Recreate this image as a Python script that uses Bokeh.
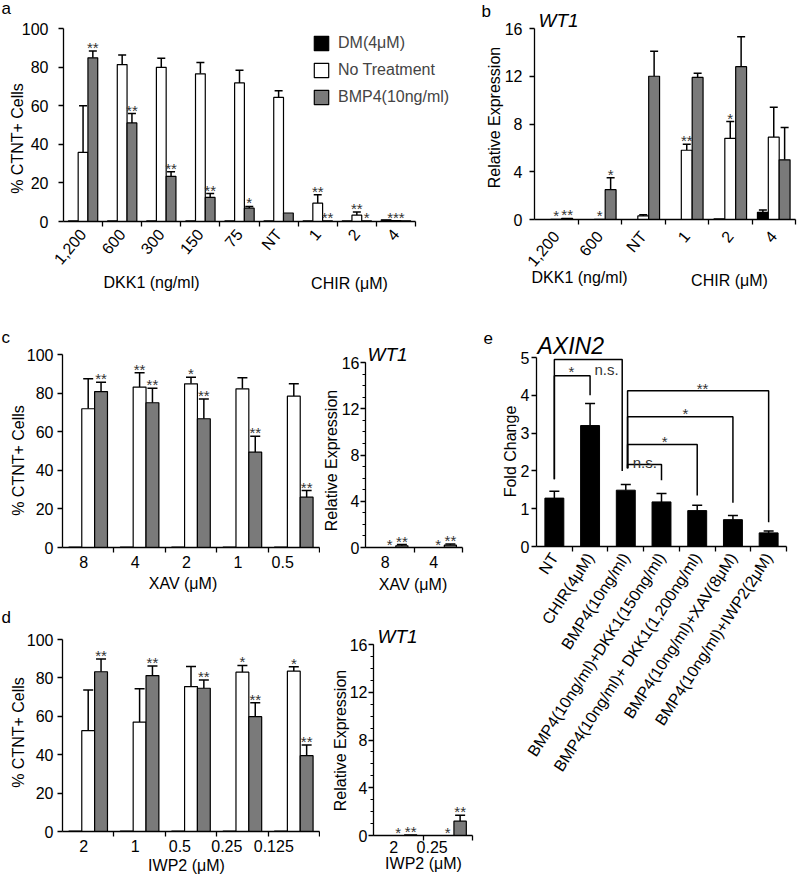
import math
from bokeh.plotting import figure
from bokeh.models import (Range1d, FixedTicker, Label, Legend, LegendItem,
                          ColumnDataSource, Whisker, TeeHead)
from bokeh.layouts import row, column
from bokeh.embed import file_html
from bokeh.resources import INLINE
from bokeh.core.properties import value

FONT = "Liberation Sans"
GRAY = "#7a7a7a"

# ---------------- data: panel a (% CTNT+ cells) ----------------
a_labels = ["1,200", "600", "300", "150", "75", "NT", "1", "2", "4"]
a_dm = [0.3, 0.3, 0.3, 0.3, 0.3, 0.3, 0.3, 0.3, 0.9]
a_dm_err = [0, 0, 0, 0, 0, 0, 0, 0, 0]
a_nt = [35.8, 81.3, 79.9, 76.5, 71.8, 64.3, 9.5, 3.3, 0.5]
a_nt_err = [24.2, 5.0, 4.7, 5.9, 6.6, 3.5, 4.4, 1.6, 0]
a_bmp = [84.8, 51.1, 23.4, 12.5, 6.9, 4.4, 0.4, 0.3, 0.4]
a_bmp_err = [3.5, 4.8, 2.4, 2.0, 0.9, 0, 0, 0, 0]
a_stars = [(0, "bmp", "**"), (1, "bmp", "**"), (2, "bmp", "**"), (3, "bmp", "**"),
           (4, "bmp", "*"), (6, "nt", "**"), (6, "bmp", "**"), (7, "nt", "**"),
           (7, "bmp", "*"), (8, "nt", "***")]

# ---------------- panel b (WT1) ----------------
b_labels = ["1,200", "600", "NT", "1", "2", "4"]
b_dm = [0.0, 0.0, 0.0, 0.0, 0.05, 0.6]
b_dm_err = [0, 0, 0, 0, 0, 0.2]
b_nt = [0.02, 0.02, 0.3, 5.8, 6.8, 6.9]
b_nt_err = [0, 0, 0.1, 0.5, 1.4, 2.5]
b_bmp = [0.1, 2.5, 12.0, 11.9, 12.8, 5.0]
b_bmp_err = [0, 1.0, 2.1, 0.35, 2.5, 2.7]
b_stars = [(0, "nt", "*"), (0, "bmp", "**"), (1, "nt", "*"), (1, "bmp", "*"),
           (3, "nt", "**"), (4, "nt", "*")]

# ---------------- panel c (XAV) ----------------
c_labels = ["8", "4", "2", "1", "0.5"]
c_dm = [0.2, 0.2, 0.2, 0.2, 0.2]
c_dm_err = [0, 0, 0, 0, 0]
c_nt = [71.9, 83.1, 84.8, 82.2, 78.4]
c_nt_err = [15.5, 7.4, 3.4, 5.7, 6.4]
c_bmp = [80.8, 75.0, 66.7, 49.4, 26.1]
c_bmp_err = [4.8, 7.5, 10.3, 8.3, 3.4]
c_stars = [(0, "bmp", "**"), (1, "nt", "**"), (1, "bmp", "**"), (2, "nt", "*"),
           (2, "bmp", "**"), (3, "bmp", "**"), (4, "bmp", "**")]

cr_labels = ["8", "4"]
cr_nt = [0.0, 0.0]
cr_nt_err = [0, 0]
cr_bmp = [0.15, 0.2]
cr_bmp_err = [0.1, 0.1]
cr_stars = [(0, "nt", "*"), (0, "bmp", "**"), (1, "nt", "*"), (1, "bmp", "**")]

# ---------------- panel d (IWP2) ----------------
d_labels = ["2", "1", "0.5", "0.25", "0.125"]
d_dm = [0.2, 0.2, 0.2, 0.2, 0.2]
d_dm_err = [0, 0, 0, 0, 0]
d_nt = [52.5, 57.0, 75.5, 83.0, 83.5]
d_nt_err = [21.2, 17.4, 10.5, 3.5, 2.3]
d_bmp = [83.2, 81.2, 74.6, 59.8, 39.5]
d_bmp_err = [6.7, 5.0, 4.3, 7.2, 5.6]
d_stars = [(0, "bmp", "**"), (1, "bmp", "**"), (2, "bmp", "**"), (3, "nt", "*"),
           (3, "bmp", "**"), (4, "nt", "*"), (4, "bmp", "**")]

dr_labels = ["2", "0.25"]
dr_nt = [0.0, 0.0]
dr_nt_err = [0, 0]
dr_bmp = [0.05, 1.2]
dr_bmp_err = [0, 0.5]
dr_stars = [(0, "nt", "*"), (0, "bmp", "**"), (1, "nt", "*"), (1, "bmp", "**")]

# ---------------- panel e (AXIN2) ----------------
e_labels = ["NT", "CHIR(4\u03bcM)", "BMP4(10ng/ml)", "BMP4(10ng/ml)+DKK1(150ng/ml)",
            "BMP4(10ng/ml)+ DKK1(1,200ng/ml)", "BMP4(10ng/ml)+XAV(8\u03bcM)",
            "BMP4(10ng/ml)+IWP2(2\u03bcM)"]
e_vals = [1.28, 3.2, 1.49, 1.18, 0.95, 0.71, 0.36]
e_err = [0.18, 0.58, 0.15, 0.22, 0.14, 0.11, 0.05]
e_br_x1 = [0, 0, 2.05, 2.05, 2.05, 2.05]
e_br_x2 = [1, 1.9, 3, 4, 5, 6]
e_br_top = [4.52, 4.95, 2.17, 2.70, 3.43, 4.12]
e_br_lo1 = [1.78, 1.78, 2.07, 2.07, 2.07, 2.07]
e_br_lo2 = [4.0, 2.0, 1.75, 1.35, 1.16, 0.64]
e_br_text = ["*", "n.s.", "n.s.", "*", "*", "**"]
e_br_text_x = [0.48, 1.46, 2.53, 3.09, 3.67, 4.15]
e_br_text_y = [4.7, 4.75, 2.3, 2.87, 3.6, 4.27]

OFFS = {"dm": -0.25, "nt": 0.0, "bmp": 0.25}
COLS = {"dm": "black", "nt": "white", "bmp": GRAY}


def make_fig(ox, oy, w, h, fl, fr, ft, fb, n, ymax):
    """Canvas w x h placed at page (ox, oy); the data box maps to page fl..fr, ft..fb."""
    x0, x1 = -0.5, n - 0.5
    y0, y1 = 0.0, float(ymax)
    ux = (x1 - x0) / (fr - fl)
    uy = (y1 - y0) / (fb - ft)
    xr = Range1d(x0 - (fl - ox) * ux, x1 + (ox + w - fr) * ux)
    yr = Range1d(y0 - (oy + h - fb) * uy, y1 + (ft - oy) * uy)
    p = figure(width=w, height=h, x_range=xr, y_range=yr,
               output_backend="svg", toolbar_location=None,
               min_border_left=0, min_border_right=0, min_border_top=0, min_border_bottom=0)
    p.grid.visible = False
    p.outline_line_color = None
    p.background_fill_color = "white"
    p.border_fill_color = "white"
    p.xaxis.fixed_location = y0
    p.xaxis.bounds = (x0, x1)
    p.yaxis.fixed_location = x0
    p.yaxis.bounds = (y0, y1)
    p.tags = [ox, oy, h]
    return p


def style_axes(p, labels, yticks, ystandoff, xangle=0.0, xstandoff=6, yminor=None,
               xfont="16px", yfont="16px"):
    n = len(labels)
    xa = p.xaxis[0]
    xa.ticker = FixedTicker(ticks=list(range(n)), minor_ticks=[i + 0.5 for i in range(n)])
    xa.major_label_overrides = {i: t for i, t in enumerate(labels)}
    xa.major_tick_line_color = None
    xa.major_tick_in = 0
    xa.major_tick_out = 0
    xa.minor_tick_line_color = "black"
    xa.minor_tick_in = 0
    xa.minor_tick_out = 5
    xa.minor_tick_line_width = 1.3
    xa.axis_line_width = 1.3
    xa.major_label_text_font = FONT
    xa.major_label_text_font_size = xfont
    xa.major_label_text_color = "black"
    xa.major_label_orientation = xangle
    xa.major_label_standoff = xstandoff
    ya = p.yaxis[0]
    ya.ticker = FixedTicker(ticks=yticks, minor_ticks=yminor or [])
    ya.major_tick_in = 0
    ya.major_tick_out = 5
    ya.major_tick_line_width = 1.3
    ya.minor_tick_in = 0
    ya.minor_tick_out = 3
    if not yminor:
        ya.minor_tick_line_color = None
    ya.axis_line_width = 1.3
    ya.major_label_text_font = FONT
    ya.major_label_text_font_size = yfont
    ya.major_label_text_color = "black"
    ya.major_label_standoff = ystandoff


def add_bars(p, series, stars, width=0.25, cap=8):
    rs = {}
    for key, (vals, errs) in series.items():
        xs = [i + OFFS[key] for i in range(len(vals))]
        rs[key] = p.vbar(x=xs, top=vals, bottom=0, width=width, fill_color=COLS[key],
                         line_color="black", line_width=1.2)
        ex = [x for x, e in zip(xs, errs) if e > 0]
        lo = [v for v, e in zip(vals, errs) if e > 0]
        hi = [v + e for v, e in zip(vals, errs) if e > 0]
        if ex:
            src = ColumnDataSource(dict(x=ex, lo=lo, hi=hi))
            p.add_layout(Whisker(base="x", lower="lo", upper="hi", source=src,
                                 dimension="height", line_color="black", line_width=1.5,
                                 upper_head=TeeHead(size=cap, line_color="black", line_width=1.5),
                                 lower_head=None))
    sx, sy, st = [], [], []
    for i, key, txt in stars:
        vals, errs = series[key]
        sx.append(i + OFFS[key])
        sy.append(vals[i] + errs[i])
        st.append(txt)
    p.text(x=sx, y=sy, text=st, text_font=value(FONT), text_font_size="15px",
           text_color="#333333", text_align="center", text_baseline="bottom", y_offset=5)
    return rs


def add_text(p, X, Y, text, size=16, angle=0.0, align="center", style="normal"):
    """(X, Y) is the page position of the text's centre line."""
    ox, oy, h = p.tags
    p.add_layout(Label(x=X - ox, y=oy + h - Y, x_units="screen", y_units="screen", text=text,
                       text_font=FONT, text_font_size=f"{size}px", angle=angle,
                       text_align=align, text_baseline="middle",
                       text_font_style=style, text_color="black"))


ROT = math.pi / 2

# ---------- panel a ----------
pa = make_fig(0, 0, 480, 300, 63, 415, 28, 221, len(a_labels), 100)
style_axes(pa, a_labels, [0, 20, 40, 60, 80, 100], 10, xangle=0.873, xstandoff=5)
ra = add_bars(pa, {"dm": (a_dm, a_dm_err), "nt": (a_nt, a_nt_err), "bmp": (a_bmp, a_bmp_err)},
              a_stars, cap=8)
leg = Legend(items=[LegendItem(label="DM(4\u03bcM)", renderers=[ra["dm"]]),
                    LegendItem(label="No Treatment", renderers=[ra["nt"]]),
                    LegendItem(label="BMP4(10ng/ml)", renderers=[ra["bmp"]])],
             location=(312, 300 - 106), glyph_width=18, glyph_height=18,
             label_height=18, spacing=9, padding=0, margin=0, label_standoff=8,
             border_line_color=None, background_fill_alpha=0,
             label_text_font=FONT, label_text_font_size="16px")
pa.add_layout(leg)
add_text(pa, 1, 8, "a", size=17, align="left")
add_text(pa, 16.5, 138, "% CTNT+ Cells", angle=ROT)
add_text(pa, 151, 282, "DKK1 (ng/ml)")
add_text(pa, 349, 283, "CHIR (\u03bcM)")

# ---------- panel b ----------
pb = make_fig(480, 0, 320, 300, 534, 795, 28, 219, len(b_labels), 16)
style_axes(pb, b_labels, [0, 4, 8, 12, 16], 7, xangle=0.873, xstandoff=9)
add_bars(pb, {"dm": (b_dm, b_dm_err), "nt": (b_nt, b_nt_err), "bmp": (b_bmp, b_bmp_err)},
         b_stars, cap=8)
add_text(pb, 481, 11, "b", size=17, align="left")
add_text(pb, 538, 20, "WT1", size=19, align="left", style="italic")
add_text(pb, 493.5, 117, "Relative Expression", angle=ROT)
add_text(pb, 579, 277, "DKK1 (ng/ml)")
add_text(pb, 729, 280, "CHIR (\u03bcM)")

# ---------- panel c ----------
pc = make_fig(0, 300, 320, 294, 62, 319, 354, 547, len(c_labels), 100)
style_axes(pc, c_labels, [0, 20, 40, 60, 80, 100], 4, xstandoff=9)
add_bars(pc, {"dm": (c_dm, c_dm_err), "nt": (c_nt, c_nt_err), "bmp": (c_bmp, c_bmp_err)},
         c_stars, cap=10)
add_text(pc, 1, 337, "c", size=17, align="left")
add_text(pc, 17.5, 460, "% CTNT+ Cells", angle=ROT)
add_text(pc, 182.5, 583, "XAV (\u03bcM)")

pcr = make_fig(320, 300, 160, 294, 365, 462, 362, 547, len(cr_labels), 16)
style_axes(pcr, cr_labels, [0, 4, 8, 12, 16], 1, xstandoff=9, yminor=list(range(17)))
add_bars(pcr, {"nt": (cr_nt, cr_nt_err), "bmp": (cr_bmp, cr_bmp_err)}, cr_stars, cap=10)
add_text(pcr, 367, 354, "WT1", size=19, align="left", style="italic")
add_text(pcr, 331, 460, "Relative Expression", angle=ROT)
add_text(pcr, 412.5, 584, "XAV (\u03bcM)")

# ---------- panel d ----------
pd_ = make_fig(0, 594, 320, 282, 62, 319, 639, 831, len(d_labels), 100)
style_axes(pd_, d_labels, [0, 20, 40, 60, 80, 100], 4, xstandoff=9)
add_bars(pd_, {"dm": (d_dm, d_dm_err), "nt": (d_nt, d_nt_err), "bmp": (d_bmp, d_bmp_err)},
         d_stars, cap=10)
add_text(pd_, 1, 617, "d", size=17, align="left")
add_text(pd_, 17.5, 732, "% CTNT+ Cells", angle=ROT)
add_text(pd_, 186, 865, "IWP2 (\u03bcM)")

pdr = make_fig(320, 594, 160, 282, 373, 472, 644, 835, len(dr_labels), 16)
style_axes(pdr, dr_labels, [0, 4, 8, 12, 16], 1, xstandoff=6, yminor=list(range(17)))
add_bars(pdr, {"nt": (dr_nt, dr_nt_err), "bmp": (dr_bmp, dr_bmp_err)}, dr_stars, cap=10)
add_text(pdr, 377, 636, "WT1", size=19, align="left", style="italic")
add_text(pdr, 340, 740, "Relative Expression", angle=ROT)
add_text(pdr, 423, 863, "IWP2 (\u03bcM)")

# ---------- panel e ----------
pe = make_fig(480, 300, 320, 576, 536, 786, 357, 546, len(e_labels), 5)
style_axes(pe, e_labels, [0, 1, 2, 3, 4, 5], 2, xangle=0.995, xstandoff=3)
ex = list(range(len(e_vals)))
pe.vbar(x=ex, top=e_vals, bottom=0, width=0.53, fill_color="black", line_color="black")
esrc = ColumnDataSource(dict(x=ex, lo=e_vals, hi=[v + e for v, e in zip(e_vals, e_err)]))
pe.add_layout(Whisker(base="x", lower="lo", upper="hi", source=esrc, dimension="height",
                      line_color="black", line_width=1.5,
                      upper_head=TeeHead(size=10, line_color="black", line_width=1.5),
                      lower_head=None))
bxs = [[a, a, b, b] for a, b in zip(e_br_x1, e_br_x2)]
bys = [[l1, t, t, l2] for l1, t, l2 in zip(e_br_lo1, e_br_top, e_br_lo2)]
pe.multi_line(xs=bxs, ys=bys, line_color="black", line_width=1.5)
pe.text(x=e_br_text_x, y=e_br_text_y, text=e_br_text, text_font=value(FONT),
        text_font_size="15px", text_color="#333333", text_align="center",
        text_baseline="middle", y_offset=3)
add_text(pe, 483, 337, "e", size=17, align="left")
add_text(pe, 537, 345, "AXIN2", size=23, align="left", style="italic")
add_text(pe, 510, 451, "Fold Change", angle=ROT)

layout = column(row(pa, pb),
                row(column(row(pc, pcr), row(pd_, pdr)), pe))

open("out.html", "w").write(file_html(layout, INLINE))
